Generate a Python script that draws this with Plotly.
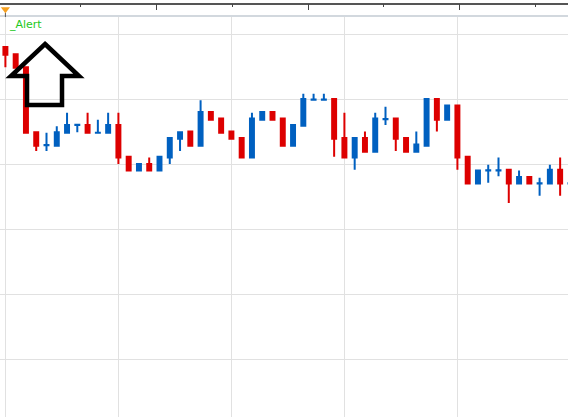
import plotly.graph_objects as go

# ---- data ----
bar_index = list(range(56))
open_ = [118.0, 116.9, 114.9, 104.9, 102.9, 102.8, 104.8, 106.0, 106.0, 104.8,
         104.8, 106.0, 101.1, 99.0, 100.0, 99.0, 101.0, 103.9, 105.0, 102.8,
         108.0, 107.0, 105.0, 104.0, 101.0, 106.8, 108.0, 107.0, 102.8, 105.9,
         109.9, 109.9, 110.0, 104.0, 101.0, 104.0, 101.9, 106.9, 107.0, 104.0,
         101.9, 102.8, 110.0, 106.8, 109.0, 101.1, 97.0, 99.0, 99.0, 99.1,
         97.0, 98.0, 97.0, 97.0, 99.1, 97.0]
high_ = [118.0, 116.9, 114.9, 104.9, 104.8, 105.8, 107.9, 106.02, 107.9, 106.8,
         107.9, 107.9, 101.1, 100.0, 101.0, 101.1, 104.0, 104.9, 105.0, 109.8,
         108.0, 107.0, 105.0, 104.0, 107.9, 108.0, 108.0, 107.0, 106.0, 110.8,
         110.8, 110.8, 110.0, 107.9, 104.0, 105.0, 107.9, 108.8, 107.0, 104.0,
         105.0, 110.0, 110.0, 109.0, 109.0, 101.1, 99.0, 99.9, 101.0, 99.1,
         99.0, 98.0, 97.9, 99.9, 101.0, 97.02]
low_ = [114.9, 114.8, 104.8, 102.0, 102.0, 102.8, 104.8, 104.9, 104.8, 104.8,
        104.8, 100.0, 99.0, 99.0, 99.0, 99.0, 100.0, 102.0, 102.8, 102.8,
        106.8, 104.8, 103.9, 101.0, 101.0, 106.8, 106.8, 102.8, 102.8, 105.9,
        109.9, 109.9, 101.1, 101.0, 99.1, 101.9, 101.9, 106.0, 102.0, 101.9,
        101.9, 102.8, 105.0, 106.8, 99.1, 97.0, 97.0, 97.1, 98.1, 94.0,
        97.0, 97.0, 95.1, 97.0, 95.1, 97.0]
close_ = [116.8, 114.8, 104.8, 102.8, 102.92, 104.9, 106.0, 106.02, 104.8, 104.82,
          106.0, 101.0, 99.0, 100.0, 99.0, 101.1, 104.0, 104.9, 102.8, 108.0,
          106.8, 104.8, 103.9, 101.0, 107.0, 108.0, 106.8, 102.8, 106.0, 110.0,
          109.92, 109.92, 103.9, 101.0, 104.0, 101.9, 107.0, 106.92, 103.9, 101.9,
          103.0, 110.0, 106.8, 109.0, 101.0, 97.0, 99.0, 99.02, 99.02, 97.0,
          98.0, 97.0, 97.02, 99.1, 97.0, 97.02]

alert_text = "_Alert"
# arrow outline (bar index, price)
arrow_x = [3.855, 7.165, 5.51, 5.51, 2.103, 2.103, 0.545]
arrow_y = [118.46, 113.54, 113.54, 109.08, 109.08, 113.54, 113.54]
top_major_ticks = [14.71, 29.46, 44.16]
top_minor_ticks = [7.30, 22.06, 36.76, 51.60]

UP = "#0060c0"
DOWN = "#dd0000"
GRID = "#e1e1e1"

fig = go.Figure()
fig.add_trace(go.Candlestick(
    x=bar_index, open=open_, high=high_, low=low_, close=close_,
    increasing=dict(line=dict(color=UP, width=2), fillcolor=UP),
    decreasing=dict(line=dict(color=DOWN, width=2), fillcolor=DOWN),
    whiskerwidth=0, showlegend=False, hoverinfo="skip",
    xaxis="x", yaxis="y",
))

# marker line on the header
fig.add_trace(go.Scatter(x=[0, 0], y=[0.35, -0.05], mode="lines",
                         line=dict(color="#555555", width=1),
                         xaxis="x2", yaxis="y2", showlegend=False,
                         hoverinfo="skip", cliponaxis=False))
fig.add_trace(go.Scatter(x=[0], y=[0.62], mode="markers",
                         marker=dict(symbol="triangle-down", size=8,
                                     color="#f5a020"),
                         xaxis="x2", yaxis="y2", showlegend=False,
                         hoverinfo="skip", cliponaxis=False))

path = "M " + " L ".join(f"{x},{y}" for x, y in zip(arrow_x, arrow_y)) + " Z"
fig.add_shape(type="path", path=path, xref="x", yref="y",
              line=dict(color="#000000", width=4.5), fillcolor="rgba(0,0,0,0)")

fig.add_annotation(text=alert_text, xref="paper", yref="paper",
                   x=7 / 568, y=1 - 25 / 417, xanchor="left", yanchor="middle",
                   showarrow=False, font=dict(family="DejaVu Sans", size=11,
                                              color="#22c822"))

xr = [-0.526, 54.765]
y_top_main = 1 - 17 / 417
fig.update_layout(
    width=568, height=417,
    margin=dict(l=0, r=0, t=0, b=0, pad=0),
    paper_bgcolor="white", plot_bgcolor="white",
    xaxis=dict(domain=[0, 1], range=xr, anchor="y", side="top",
               showline=True, linecolor="#d2d8de", linewidth=2,
               showgrid=True, gridcolor=GRID, gridwidth=1,
               tickmode="linear", tick0=0, dtick=11,
               showticklabels=False, ticks="", zeroline=False,
               rangeslider=dict(visible=False), fixedrange=True),
    yaxis=dict(domain=[0, y_top_main], range=[61.077, 122.615],
               showline=True, linecolor="#cccccc", linewidth=1,
               showgrid=True, gridcolor=GRID, gridwidth=1,
               tickmode="linear", tick0=0, dtick=10,
               showticklabels=False, ticks="", zeroline=False),
    xaxis2=dict(domain=[0, 1], range=xr, anchor="y2", side="top",
                showline=True, linecolor="#555555", linewidth=1.5,
                showgrid=False, zeroline=False, showticklabels=False,
                tickmode="array", tickvals=top_major_ticks,
                ticks="inside", ticklen=6, tickcolor="#444444", tickwidth=1,
                minor=dict(tickmode="array", tickvals=top_minor_ticks,
                           ticks="inside", ticklen=3, tickcolor="#444444",
                           showgrid=False)),
    yaxis2=dict(domain=[y_top_main, 1 - 4.5 / 417], range=[0, 1],
                anchor="x2", showline=True, linecolor="#777777", linewidth=1,
                showgrid=False, zeroline=False, showticklabels=False,
                ticks=""),
    boxgap=0.45,
)

fig.write_html("out.html")
